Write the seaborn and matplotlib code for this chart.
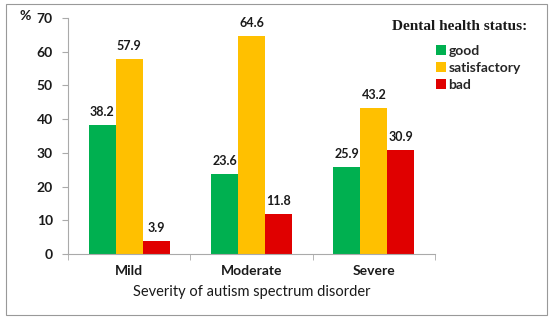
import pandas as pd
import matplotlib.pyplot as plt
import seaborn as sns
from matplotlib.patches import Rectangle

# Data
severity = ["Mild", "Moderate", "Severe"]
status = ["good", "satisfactory", "bad"]
good = [38.2, 23.6, 25.9]
satisfactory = [57.9, 64.6, 43.2]
bad = [3.9, 11.8, 30.9]

df = pd.DataFrame({"Severity": severity * 3,
                   "Status": [s for s in status for _ in severity],
                   "Percent": good + satisfactory + bad})

colors = ["#00B050", "#FFC000", "#E00000"]
txt = "#1a1a1a"

sns.set_style("white")
plt.rcParams["font.family"] = ["Lato", "DejaVu Sans"]

fig = plt.figure(figsize=(5.5, 3.2), dpi=100)
ax = fig.add_axes([68 / 550, 1 - 254 / 320, 367 / 550, 236 / 320])

sns.barplot(data=df, x="Severity", y="Percent", hue="Status", hue_order=status,
            palette=colors, width=0.66, saturation=1, linewidth=0, ax=ax, legend=True)

for cont in ax.containers:
    ax.bar_label(cont, fmt="%.1f", padding=5, fontsize=9, fontweight="bold", color=txt)

ax.set_ylim(0, 70)
ax.set_xlim(-0.5, 2.5)
ax.set_yticks(range(0, 71, 10))
ax.set_xticks([-0.5, 0.5, 1.5, 2.5], minor=True)
ax.tick_params(axis="x", which="major", length=0, pad=8, labelsize=10)
ax.tick_params(axis="x", which="minor", length=4, color="#aaaaaa", direction="out", bottom=True)
ax.tick_params(axis="y", length=4, color="#aaaaaa", direction="out", left=True, labelsize=10, pad=7)
for lab in ax.get_xticklabels() + ax.get_yticklabels():
    lab.set_fontweight("bold")
    lab.set_color(txt)

for side in ["top", "right"]:
    ax.spines[side].set_visible(False)
for side in ["left", "bottom"]:
    ax.spines[side].set_color("#aaaaaa")
    ax.spines[side].set_linewidth(0.8)

ax.set_ylabel("")
ax.set_xlabel("Severity of autism spectrum disorder", fontsize=10.5, color=txt, labelpad=6)

fig.text(19 / 550, 1 - 16 / 320, "%", fontsize=10, fontweight="bold", color=txt, va="center")

# legend: title as separate text, entries below
fig.text(527 / 550, 1 - 27 / 320, "Dental health status:", fontsize=11, fontweight="bold",
         family="Liberation Serif", color=txt, ha="right", va="center")
ax.legend(loc="upper left", bbox_to_anchor=(436 / 550, 1 - 45 / 320), bbox_transform=fig.transFigure,
          frameon=False, handlelength=0.7, handleheight=0.7, handletextpad=0.2,
          labelspacing=0.35, borderpad=0, borderaxespad=0,
          prop={"weight": "bold", "size": 10})

fig.patches.append(Rectangle((6 / 550, 1 - 315 / 320), 541 / 550, 311 / 320, transform=fig.transFigure,
                             fill=False, edgecolor="#999999", linewidth=0.8))

fig.savefig("out.png", dpi=100)
